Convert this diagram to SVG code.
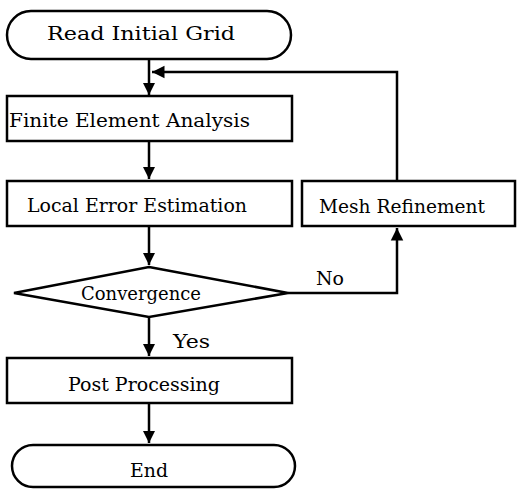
<svg xmlns="http://www.w3.org/2000/svg" width="518" height="489" viewBox="0 0 518 489">
<style>
.box{fill:#fff;stroke:#000;stroke-width:2.5}
.ln{fill:none;stroke:#000;stroke-width:2.5}
text{font-family:"DejaVu Serif","Liberation Serif",serif;font-size:18px;fill:#000}
</style>
<defs>
<marker id="ah" viewBox="0 0 10 10" refX="10" refY="5" markerWidth="5" markerHeight="6" orient="auto" markerUnits="strokeWidth">
<path d="M0,0 L10,5 L0,10 z" fill="#000"/>
</marker>
</defs>
<rect width="518" height="489" fill="#fff"/>
<g id="connectors">
<path class="ln" d="M149,59 V95" marker-end="url(#ah)"/>
<path class="ln" d="M397,181 V72 H152" marker-end="url(#ah)"/>
<path class="ln" d="M149,141 V179" marker-end="url(#ah)"/>
<path class="ln" d="M149,226 V265" marker-end="url(#ah)"/>
<path class="ln" d="M288,293 H397 V228" marker-end="url(#ah)"/>
<path class="ln" d="M149,316 V356" marker-end="url(#ah)"/>
<path class="ln" d="M149,403 V443" marker-end="url(#ah)"/>
<text x="316" y="285" textLength="28" lengthAdjust="spacingAndGlyphs">No</text>
<text x="173" y="348" textLength="37" lengthAdjust="spacingAndGlyphs">Yes</text>
</g>
<g id="start">
<rect class="box" x="7" y="11" width="284" height="48" rx="24" ry="24"/>
<text x="47" y="40" textLength="188" lengthAdjust="spacingAndGlyphs">Read Initial Grid</text>
</g>
<g id="fea">
<rect class="box" x="7" y="96" width="285" height="45"/>
<text x="9" y="127" textLength="241" lengthAdjust="spacingAndGlyphs">Finite Element Analysis</text>
</g>
<g id="lee">
<rect class="box" x="7" y="181" width="285" height="45"/>
<text x="27" y="212" textLength="220" lengthAdjust="spacingAndGlyphs">Local Error Estimation</text>
</g>
<g id="mesh">
<rect class="box" x="302" y="181" width="213" height="45"/>
<text x="319" y="213" textLength="166" lengthAdjust="spacingAndGlyphs">Mesh Refinement</text>
</g>
<g id="convergence">
<polygon class="box" points="149,267 288,293 149,317 14,293" stroke-width="2"/>
<text x="81" y="300" textLength="120" lengthAdjust="spacingAndGlyphs">Convergence</text>
</g>
<g id="post">
<rect class="box" x="7" y="358" width="285" height="45"/>
<text x="68" y="391" textLength="152" lengthAdjust="spacingAndGlyphs">Post Processing</text>
</g>
<g id="end">
<rect class="box" x="12" y="445" width="283" height="42" rx="21" ry="21"/>
<text x="130" y="477" textLength="38" lengthAdjust="spacingAndGlyphs">End</text>
</g>
</svg>
